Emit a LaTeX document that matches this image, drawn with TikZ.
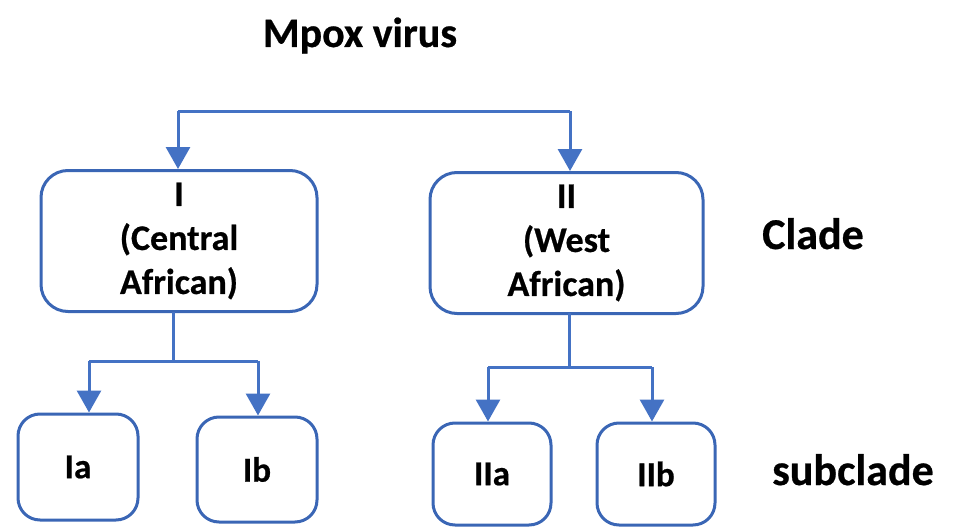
\documentclass[tikz,border=0pt]{standalone}
\usepackage{fontspec}
\setmainfont{Carlito}[BoldFeatures={FakeBold=0.6}]
\usetikzlibrary{arrows.meta}
\definecolor{boxblue}{HTML}{3A66B5}
\definecolor{linkblue}{HTML}{4472C4}
\tikzset{
  clade/.style={draw=boxblue, line width=3pt, rounded corners=27pt, align=center,
    font=\fontsize{36}{44}\selectfont\bfseries, inner sep=0pt},
  sub/.style={draw=boxblue, line width=3pt, rounded corners=22pt,
    font=\fontsize{35}{42}\selectfont\bfseries, inner sep=0pt},
  label/.style={font=\fontsize{44}{50}\selectfont\bfseries, inner sep=0pt},
  link/.style={draw=linkblue, line width=3pt},
  arr/.style={link, -{Triangle[width=24pt,length=22pt]}},
}
\begin{document}
\begin{tikzpicture}[x=1pt,y=-1pt]
\useasboundingbox (0,0) rectangle (953,527);
\node[label, font=\fontsize{42}{48}\selectfont\bfseries, anchor=base] (title) at (360,47) {Mpox virus};
\node[clade, minimum width=276pt, minimum height=141pt] (I) at (179,241) {I\\(Central\\African)};
\node[clade, minimum width=273pt, minimum height=141pt] (II) at (566.5,243) {II\\(West\\African)};
\node[label, anchor=base] (clade) at (813,249) {Clade};
\node[sub, minimum width=120pt, minimum height=106pt] (Ia) at (78,467) {Ia};
\node[sub, minimum width=120pt, minimum height=105pt] (Ib) at (257,469.5) {Ib};
\node[sub, minimum width=118pt, minimum height=102pt] (IIa) at (492,474) {IIa};
\node[sub, minimum width=118pt, minimum height=102pt] (IIb) at (656,474) {IIb};
\node[label, anchor=base] (subclade) at (853,485) {subclade};
% top split
\coordinate (tl) at (178,111);
\coordinate (tr) at (570,111);
\draw[link] (tl) -- (tr);
\draw[arr] (tl) -- (tl |- I.north);
\draw[arr] (tr) -- (tr |- II.north);
% clade I split
\coordinate (js) at (173,312);
\coordinate (jm) at (173,361);
\coordinate (jl) at (89,361);
\coordinate (jr) at (258,361);
\draw[link] (js) -- (jm);
\draw[link] (jl) -- (jr);
\draw[arr] (jl) -- (jl |- Ia.north);
\draw[arr] (jr) -- (jr |- Ib.north);
% clade II split
\coordinate (ks) at (569,313);
\coordinate (km) at (569,367);
\coordinate (kl) at (488,367);
\coordinate (kr) at (652,367);
\draw[link] (ks) -- (km);
\draw[link] (kl) -- (kr);
\draw[arr] (kl) -- (kl |- IIa.north);
\draw[arr] (kr) -- (kr |- IIb.north);
\end{tikzpicture}
\end{document}
